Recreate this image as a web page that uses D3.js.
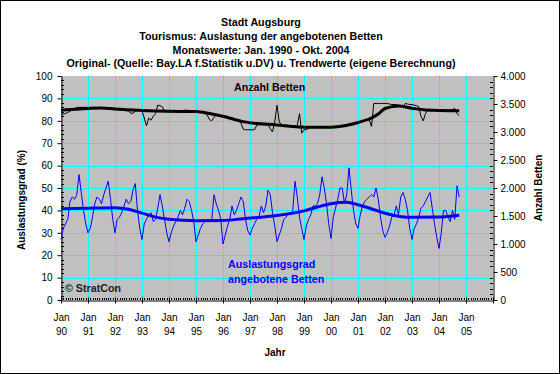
<!DOCTYPE html>
<html><head><meta charset="utf-8">
<script src="https://cdn.jsdelivr.net/npm/d3@7"></script>
<style>
html,body{margin:0;padding:0;background:#fff;}
svg{display:block;font-family:"Liberation Sans",Arial,sans-serif;}
</style></head>
<body>
<svg id="c" width="560" height="374"></svg>
<script>
// ---------- DATA ----------
const titleLines = [
  "Stadt Augsburg",
  "Tourismus: Auslastung der angebotenen Betten",
  "Monatswerte: Jan. 1990 - Okt. 2004",
  "Original- (Quelle: Bay.LA f.Statistik u.DV) u. Trendwerte (eigene Berechnung)"
];
const startYear = 1990;
const xTickYears = ["90","91","92","93","94","95","96","97","98","99","00","01","02","03","04","05"];
const xTickMonth = "Jan";
const leftTicks = [0,10,20,30,40,50,60,70,80,90,100];
const rightTicks = [0,500,1000,1500,2000,2500,3000,3500,4000];

// Auslastungsgrad (%) monthly, Jan 1990 - Oct 2004
const auslastung = [
  27,32,34,36,44,46,45,47,56,48,40,34,   // 1990
  30,32,37,43,46,45,43,47,50,53,45,36,   // 1991
  30,36,37,39,42,45,43,44,49,52,40,32,   // 1992
  27,34,36,38,39,35,36,41,47,42,36,30,   // 1993
  26,30,33,35,37,40,38,41,45,44,40,35,   // 1994
  26,29,32,34,35,36,35,36,47,43,40,36,   // 1995
  25,29,33,36,42,38,40,43,46,44,36,31,   // 1996
  29,32,34,36,37,42,39,42,49,47,39,33,   // 1997
  26,29,32,36,37,39,38,40,53,46,37,32,   // 1998
  27,33,36,38,42,42,43,47,55,50,43,34,   // 1999
  27.5,37,41,45,50,50,43,47,59,49,40,34, // 2000
  32,38,42,44,45,46,47,46,50,45,37,31,   // 2001
  28,30,33,37,38,42,38,46,48,45,40,32,   // 2002
  27,32,34,37,41,42,44,46,48,41,34,28,   // 2003
  23,30,40,40,37,35,40,36,51,46          // 2004
];
// Anzahl Betten monthly
const betten = [
  3310,3320,3330,3350,3370,3400,3420,3440,3440,3440,3440,3440,
  3440,3440,3440,3440,3430,3430,3420,3420,3420,3410,3410,3400,
  3400,3400,3390,3390,3390,3380,3380,3330,3340,3370,3390,3390,
  3380,3250,3110,3250,3210,3280,3330,3480,3470,3450,3370,3360,
  3360,3360,3360,3360,3370,3370,3380,3390,3390,3380,3370,3360,
  3360,3360,3360,3350,3330,3300,3220,3200,3260,3300,3300,3290,
  3280,3270,3260,3250,3240,3230,3220,3200,3160,3050,3040,3040,
  3040,3040,3040,3120,3130,3130,3130,3130,3130,3060,3000,3180,
  3480,3180,3130,3120,3120,3110,3110,3110,3110,3120,3330,2980,
  3040,3040,3070,3080,3080,3080,3080,3080,3080,3080,3080,3080,
  3080,3090,3090,3100,3100,3110,3120,3120,3130,3140,3150,3160,
  3160,3170,3200,3210,3220,3220,3100,3510,3510,3510,3510,3510,
  3510,3510,3500,3490,3490,3490,3480,3470,3450,3510,3500,3490,
  3490,3480,3470,3450,3280,3200,3330,3390,3390,3390,3390,3390,
  3390,3390,3390,3390,3390,3390,3400,3420,3330,3290
];
// Trend values (time in decimal years)
const trendAusT = [1990.0,1991.0,1992.0,1992.5,1993.0,1993.5,1994.0,1995.0,1996.0,1996.75,1998.0,1999.0,1999.5,2000.0,2000.6,2001.0,2001.6,2002.0,2002.6,2003.0,2004.0,2004.75];
const trendAusV = [40.7,41.0,41.2,40.5,38.8,37.0,36.0,35.4,35.5,36.3,37.7,39.8,41.5,43.0,43.6,42.5,40.3,38.7,37.2,36.9,37.0,37.8];
const trendBetT = [1990.0,1991.0,1991.5,1992.0,1993.0,1994.0,1995.0,1995.5,1996.0,1996.75,1998.0,1999.2,2000.0,2000.5,2001.0,2001.5,2001.75,2002.0,2002.5,2003.0,2003.5,2004.75];
const trendBetV = [3390,3420,3430,3410,3385,3370,3365,3330,3280,3185,3125,3085,3085,3110,3170,3250,3320,3420,3465,3425,3395,3380];

// ---------- DRAW ----------
const svg = d3.select("#c");
const W = 560, H = 374;
const P = {l:61, r:493, t:76, b:300};
const x = d3.scaleLinear().domain([1990,2006]).range([P.l,P.r]);
const yL = d3.scaleLinear().domain([0,100]).range([P.b,P.t]);
const yR = d3.scaleLinear().domain([0,4000]).range([P.b,P.t]);
const locale = d3.formatLocale({decimal:",",thousands:".",grouping:[3],currency:["",""]});
const fmtR = locale.format(",");

svg.append("rect").attr("x",0.5).attr("y",0.5).attr("width",W-1).attr("height",H-1)
  .attr("fill","#fff").attr("stroke","#000");

// titles
svg.append("g").selectAll("text").data(titleLines).join("text")
  .attr("x",261).attr("y",(d,i)=>26+i*13.8)
  .attr("text-anchor","middle").attr("font-weight","bold").attr("font-size","10.7px")
  .attr("fill","#000").text(d=>d);

// plot area
svg.append("rect").attr("x",P.l).attr("y",P.t).attr("width",P.r-P.l).attr("height",P.b-P.t)
  .attr("fill","#c0c0c0");

// gridlines
const grid = svg.append("g").attr("stroke","#00ffff").attr("stroke-width",1);
leftTicks.filter(v=>v>0&&v<100).forEach(v=>{
  const yy = Math.round(yL(v))+0.5;
  grid.append("line").attr("x1",P.l).attr("x2",P.r).attr("y1",yy).attr("y2",yy);
});
d3.range(1991,2006).forEach(yr=>{
  const xx = Math.round(x(yr))+0.5;
  grid.append("line").attr("x1",xx).attr("x2",xx).attr("y1",P.t).attr("y2",P.b);
});

// axes
const ax = svg.append("g").attr("font-size","10px").attr("fill","#000");
// left axis
const gL = svg.append("g").attr("transform",`translate(${P.l+0.5},0)`)
  .call(d3.axisLeft(yL).tickValues(leftTicks).tickSize(4).tickSizeOuter(0).tickPadding(5));
// left minor ticks
svg.append("g").selectAll("line").data(d3.range(0,101,2).filter(v=>v%10!==0)).join("line")
  .attr("x1",P.l).attr("x2",P.l+3).attr("y1",d=>Math.round(yL(d))+0.5).attr("y2",d=>Math.round(yL(d))+0.5)
  .attr("stroke","#000");
// right axis
const gR = svg.append("g").attr("transform",`translate(${P.r+0.5},0)`)
  .call(d3.axisRight(yR).tickValues(rightTicks).tickFormat(fmtR).tickSize(4).tickSizeOuter(0).tickPadding(3));
svg.append("g").selectAll("line").data(d3.range(0,4001,100).filter(v=>v%500!==0)).join("line")
  .attr("x1",P.r-3).attr("x2",P.r).attr("y1",d=>Math.round(yR(d))+0.5).attr("y2",d=>Math.round(yR(d))+0.5)
  .attr("stroke","#000");
// bottom axis
const gB = svg.append("g").attr("transform",`translate(0,${P.b+0.5})`)
  .call(d3.axisBottom(x).tickValues(d3.range(1990,2007)).tickFormat("").tickSize(3).tickSizeOuter(0));
gB.selectAll(".tick line").attr("y1",-3);
svg.append("g").selectAll("line").data(d3.range(0,16*12)).join("line")
  .attr("x1",d=>Math.round(x(1990+d/12))+0.5).attr("x2",d=>Math.round(x(1990+d/12))+0.5)
  .attr("y1",P.b-2).attr("y2",P.b).attr("stroke","#000");
[gL,gR,gB].forEach(g=>{
  g.selectAll("path").attr("stroke","#000");
  g.selectAll("line").attr("stroke","#000");
  g.selectAll("text").attr("font-size","10px").attr("fill","#000")
   .attr("font-family","Liberation Sans, Arial, sans-serif");
});
// x labels
const xl = svg.append("g").attr("font-size","10px").attr("text-anchor","middle").attr("fill","#000");
xTickYears.forEach((lab,i)=>{
  const t = xl.append("text").attr("x",x(startYear+i)+0.5);
  t.append("tspan").attr("x",x(startYear+i)+0.5).attr("y",320.5).text(xTickMonth);
  t.append("tspan").attr("x",x(startYear+i)+0.5).attr("y",334.5).text(lab);
});

// axis titles
svg.append("text").attr("x",275).attr("y",356).attr("text-anchor","middle")
  .attr("font-weight","bold").attr("font-size","10px").text("Jahr");
svg.append("text").attr("transform","translate(25,200) rotate(-90)").attr("text-anchor","middle")
  .attr("font-weight","bold").attr("font-size","10px").text("Auslastungsgrad (%)");
svg.append("text").attr("transform","translate(542,188) rotate(-90)").attr("text-anchor","middle")
  .attr("font-weight","bold").attr("font-size","10px").text("Anzahl Betten");

// series
const tOf = i => startYear + i/12;
const lineL = d3.line().x(d=>x(d[0])).y(d=>yL(d[1]));
const lineR = d3.line().x(d=>x(d[0])).y(d=>yR(d[1]));
const lineLs = d3.line().x(d=>x(d[0])).y(d=>yL(d[1])).curve(d3.curveMonotoneX);
const lineRs = d3.line().x(d=>x(d[0])).y(d=>yR(d[1])).curve(d3.curveMonotoneX);

svg.append("path").datum(betten.map((v,i)=>[tOf(i),v])).attr("d",lineR)
  .attr("fill","none").attr("stroke","#000").attr("stroke-width",1);
svg.append("path").datum(trendBetT.map((t,i)=>[t,trendBetV[i]])).attr("d",lineRs)
  .attr("fill","none").attr("stroke","#000").attr("stroke-width",3);
svg.append("path").datum(auslastung.map((v,i)=>[tOf(i),v])).attr("d",lineL)
  .attr("fill","none").attr("stroke","#0000ff").attr("stroke-width",1);
svg.append("path").datum(trendAusT.map((t,i)=>[t,trendAusV[i]])).attr("d",lineLs)
  .attr("fill","none").attr("stroke","#0000ff").attr("stroke-width",3);

// in-plot labels
svg.append("text").attr("x",234).attr("y",91).attr("font-weight","bold").attr("font-size","10.7px")
  .attr("fill","#000").text("Anzahl Betten");
svg.append("text").attr("x",228).attr("y",268).attr("font-weight","bold").attr("font-size","10.7px")
  .attr("fill","#0000ff").text("Auslastungsgrad");
svg.append("text").attr("x",228).attr("y",283).attr("font-weight","bold").attr("font-size","10.7px")
  .attr("fill","#0000ff").text("angebotene Betten");
svg.append("text").attr("x",65).attr("y",292).attr("font-weight","bold").attr("font-size","10.7px")
  .attr("fill","#202020").text("© StratCon");
</script>
</body></html>
